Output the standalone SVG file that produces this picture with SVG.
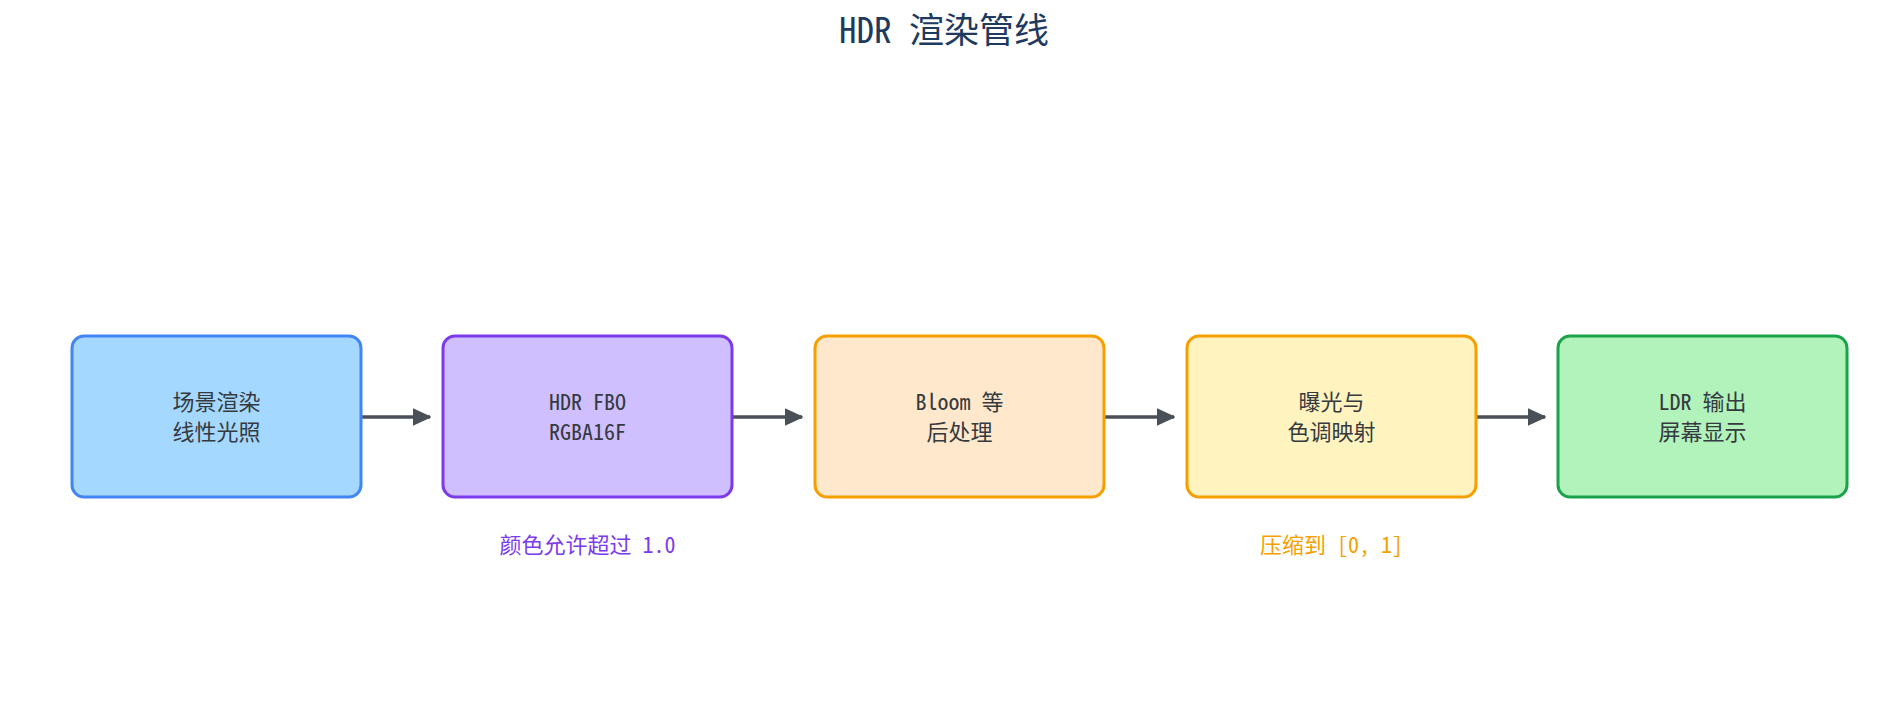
<svg xmlns="http://www.w3.org/2000/svg" width="1888" height="717" viewBox="0 0 1888 717">
<style>
text{font-family:"Noto Sans Mono CJK SC","Noto Sans CJK SC",monospace;text-anchor:middle;font-weight:300}
.t{font-size:35px;fill:#1e3a5f}
.n{font-size:22px;fill:#343a40}
.box{stroke-width:3}
.sub{font-size:22px}
.edge{stroke:#495057;stroke-width:3.5;fill:none}
</style>
<defs>
<marker id="ah" markerWidth="6" markerHeight="6" refX="5" refY="3" orient="auto" markerUnits="strokeWidth"><path d="M0,0.7 L5,3 L0,5.3 Z" fill="#495057" stroke="#495057" stroke-width="0.5" stroke-linejoin="round"/></marker>
</defs>
<rect width="1888" height="717" fill="#ffffff"/>
<text class="t" x="944" y="43">HDR 渲染管线</text>
<g id="connectors">
<line class="edge" x1="361" y1="417" x2="430" y2="417" marker-end="url(#ah)"/>
<line class="edge" x1="732" y1="417" x2="802" y2="417" marker-end="url(#ah)"/>
<line class="edge" x1="1104" y1="417" x2="1174" y2="417" marker-end="url(#ah)"/>
<line class="edge" x1="1477" y1="417" x2="1545" y2="417" marker-end="url(#ah)"/>
</g>
<g id="scene">
<rect class="box" x="72" y="336" width="289" height="161" rx="12" fill="#a5d8ff" stroke="#4285f4"/>
<text class="n" x="216.5" y="410">场景渲染</text>
<text class="n" x="216.5" y="440">线性光照</text>
</g>
<g id="hdrfbo">
<rect class="box" x="443" y="336" width="289" height="161" rx="12" fill="#d0bfff" stroke="#7c3aed"/>
<text class="n" x="587.5" y="410">HDR FBO</text>
<text class="n" x="587.5" y="440">RGBA16F</text>
</g>
<g id="bloom">
<rect class="box" x="815" y="336" width="289" height="161" rx="12" fill="#ffe8cc" stroke="#f59f00"/>
<text class="n" x="959.5" y="410">Bloom 等</text>
<text class="n" x="959.5" y="440">后处理</text>
</g>
<g id="tonemap">
<rect class="box" x="1187" y="336" width="289" height="161" rx="12" fill="#fff3bf" stroke="#f59f00"/>
<text class="n" x="1331.5" y="410">曝光与</text>
<text class="n" x="1331.5" y="440">色调映射</text>
</g>
<g id="ldr">
<rect class="box" x="1558" y="336" width="289" height="161" rx="12" fill="#b2f2bb" stroke="#1aa34a"/>
<text class="n" x="1702.5" y="410">LDR 输出</text>
<text class="n" x="1702.5" y="440">屏幕显示</text>
</g>
<g id="note-hdr">
<text class="sub" x="587.5" y="553" fill="#7c3aed">颜色允许超过 1.0</text>
</g>
<g id="note-ldr">
<text class="sub" x="1331.5" y="553" fill="#f59f00">压缩到 [0, 1]</text>
</g>
</svg>
